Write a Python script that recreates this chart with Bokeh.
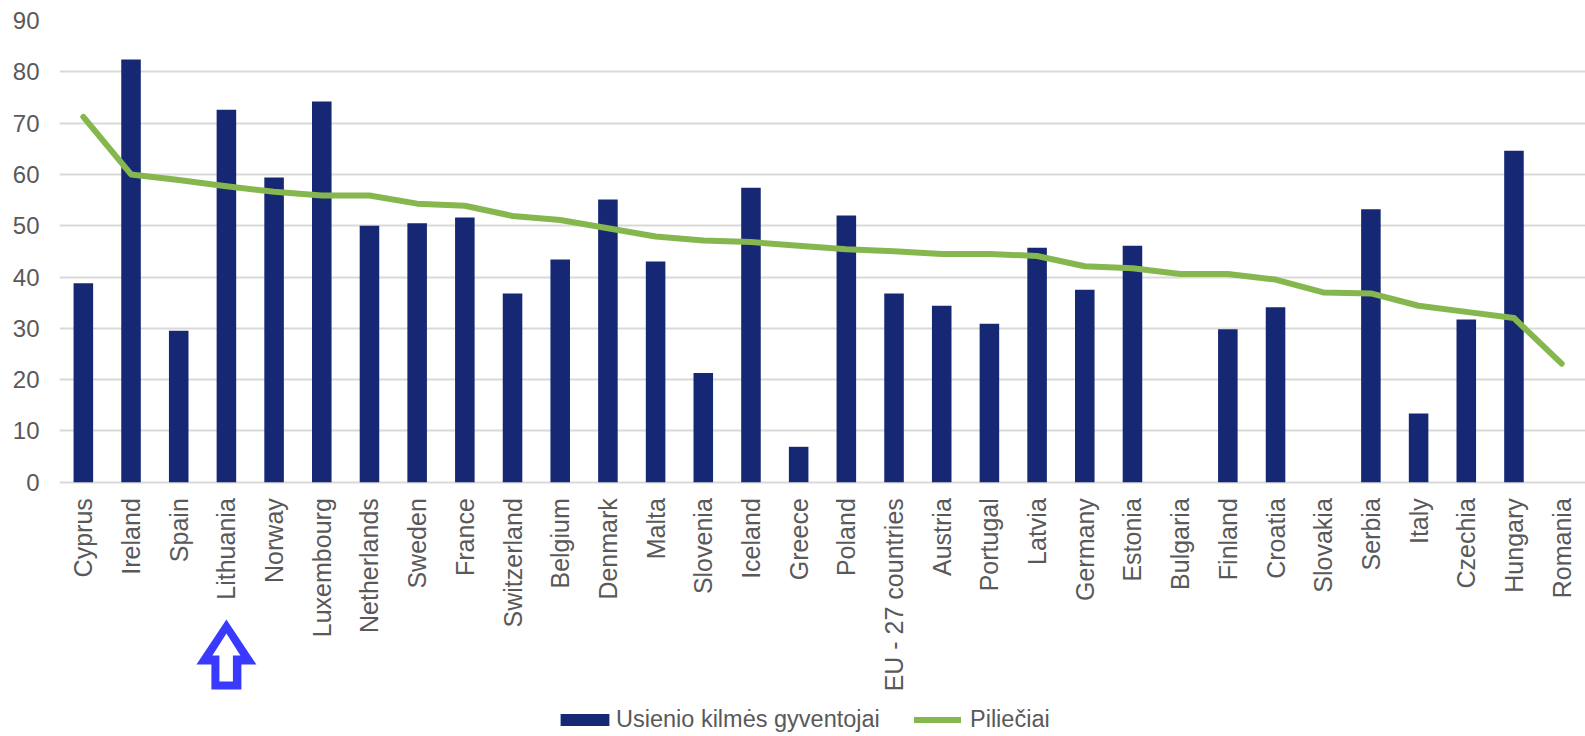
from bokeh.plotting import figure
from bokeh.models import (FactorRange, ColumnDataSource, Legend, LegendItem,
                          FixedTicker, PolyAnnotation)
from bokeh.embed import file_html
from bokeh.resources import INLINE
import math

countries = ["Cyprus", "Ireland", "Spain", "Lithuania", "Norway", "Luxembourg",
             "Netherlands", "Sweden", "France", "Switzerland", "Belgium", "Denmark",
             "Malta", "Slovenia", "Iceland", "Greece", "Poland", "EU - 27 countries",
             "Austria", "Portugal", "Latvia", "Germany", "Estonia", "Bulgaria",
             "Finland", "Croatia", "Slovakia", "Serbia", "Italy", "Czechia",
             "Hungary", "Romania"]

foreign_born = [38.8, 82.4, 29.5, 72.6, 59.4, 74.2, 50.0, 50.5, 51.6, 36.8, 43.4, 55.1,
                43.0, 21.3, 57.4, 6.9, 52.0, 36.8, 34.4, 30.9, 45.7, 37.5, 46.1,
                float("nan"), 29.8, 34.1, float("nan"), 53.2, 13.4, 31.7, 64.6,
                float("nan")]

citizens = [71.2, 60.0, 58.9, 57.7, 56.6, 55.9, 55.9, 54.3, 53.9, 51.9, 51.1, 49.5,
            47.9, 47.1, 46.8, 46.1, 45.4, 45.0, 44.5, 44.5, 44.1, 42.1, 41.7,
            40.6, 40.6, 39.5, 37.0, 36.8, 34.4, 33.2, 32.0, 23.1]

y_ticks = [0, 10, 20, 30, 40, 50, 60, 70, 80, 90]

highlight = "Lithuania"

FONT = "Liberation Sans"
TXT = "#595959"

# layout constants (pixels)
FIG_W, FIG_H = 1585, 736
LEFT, TOP = 59, 20
FRAME_W = FIG_W - LEFT
FRAME_H = FIG_H - TOP
PX_PER_UNIT = 461.7 / 90.0
Y_END = 90.0
Y_START = Y_END - FRAME_H / PX_PER_UNIT

src = ColumnDataSource(dict(country=countries, fb=foreign_born, cit=citizens))

p = figure(width=FIG_W, height=FIG_H,
           output_backend="svg", toolbar_location=None,
           x_range=FactorRange(factors=countries, range_padding=0),
           y_range=(Y_START, Y_END), min_border_left=LEFT, min_border_right=0,
           min_border_top=TOP, min_border_bottom=0)
p.outline_line_color = None
p.background_fill_color = "white"
p.border_fill_color = "white"

bars = p.vbar(x="country", top="fb", width=0.41, source=src,
              fill_color="#162873", line_color=None)
line = p.line(x="country", y="cit", source=src, line_color="#86B74F",
              line_width=6, line_join="round", line_cap="round")

# y axis
p.yaxis.ticker = FixedTicker(ticks=y_ticks)
p.yaxis.axis_line_color = None
p.yaxis.major_tick_line_color = None
p.yaxis.minor_tick_line_color = None
p.yaxis.major_tick_out = 0
p.yaxis.major_tick_in = 0
p.yaxis.minor_tick_out = 0
p.yaxis.major_label_text_font = FONT
p.yaxis.major_label_text_font_size = "24px"
p.yaxis.major_label_text_color = TXT
p.yaxis.major_label_standoff = 20

# x axis drawn at value 0
p.xaxis.fixed_location = 0
p.xaxis.axis_line_color = None
p.xaxis.major_tick_line_color = None
p.xaxis.minor_tick_line_color = None
p.xaxis.major_tick_out = 0
p.xaxis.major_tick_in = 0
p.xaxis.minor_tick_out = 0
p.xaxis.major_label_orientation = math.pi / 2
p.xaxis.major_label_text_font = FONT
p.xaxis.major_label_text_font_size = "25px"
p.xaxis.major_label_text_color = TXT
p.xaxis.major_label_standoff = 16

p.xgrid.grid_line_color = None
p.ygrid.grid_line_color = "#d9d9d9"
p.ygrid.grid_line_width = 2

common = dict(orientation="horizontal", label_text_font=FONT,
              label_text_font_size="23.5px", label_text_color=TXT,
              padding=0, margin=0, border_line_color=None,
              background_fill_alpha=0, label_height=12)
leg1 = Legend(items=[LegendItem(label="Usienio kilmės gyventojai", renderers=[bars])],
              location=(495, 3), glyph_width=61, glyph_height=15, label_standoff=1,
              **common)
leg2 = Legend(items=[LegendItem(label="Piliečiai", renderers=[line])],
              location=(855, 3), glyph_width=47, glyph_height=15, label_standoff=9,
              **common)
p.add_layout(leg1)
p.add_layout(leg2)

# highlight arrow under the selected country
cat_px = FRAME_W / len(countries)
xi = countries.index(highlight) + 0.5
ZERO_SY = TOP + 90 * PX_PER_UNIT  # screen y of value 0

def cx(dx):
    return xi + dx / cat_px

def cy(sy):
    return (ZERO_SY - sy) / PX_PER_UNIT

outer_x = [cx(0), cx(-30), cx(-15), cx(-15), cx(15), cx(15), cx(30)]
outer_y = [cy(619), cy(664), cy(664), cy(689), cy(689), cy(664), cy(664)]
inner_x = [cx(0), cx(-14), cx(-7), cx(-7), cx(6.5), cx(6.5), cx(14)]
inner_y = [cy(633), cy(655), cy(655), cy(681), cy(681), cy(655), cy(655)]
p.add_layout(PolyAnnotation(xs=outer_x, ys=outer_y, xs_units="data", ys_units="data",
                            fill_color="#3A3AFF", fill_alpha=1, line_color=None))
p.add_layout(PolyAnnotation(xs=inner_x, ys=inner_y, xs_units="data", ys_units="data",
                            fill_color="white", fill_alpha=1, line_color=None))

open("out.html", "w").write(file_html(p, INLINE))
